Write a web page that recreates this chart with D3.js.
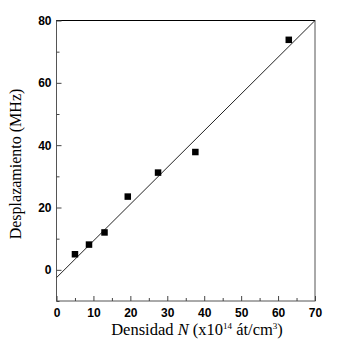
<!DOCTYPE html>
<html>
<head>
<meta charset="utf-8">
<script src="https://cdn.jsdelivr.net/npm/d3@7"></script>
<style>
  body { margin: 0; background: #fff; }
</style>
</head>
<body>
<div id="chart"></div>
<script>
// measured points
var densidad = [5.0, 8.8, 13.0, 19.3, 27.5, 37.6, 62.9];
var desplaz = [5.0, 8.1, 12.0, 23.5, 31.2, 37.8, 73.8];

// linear fit, end points
var fitX = [0, 70];
var fitY = [-2.5, 80];

var xTicks = [0, 10, 20, 30, 40, 50, 60, 70];
var yTicks = [0, 20, 40, 60, 80];

var width = 338, height = 352;
var plotL = 56.5, plotR = 315, plotT = 20.5, plotB = 301;

var svg = d3.select("#chart")
    .append("svg")
    .attr("width", width)
    .attr("height", height);

var x = d3.scaleLinear().domain([0, 70]).range([plotL, plotR]);
var y = d3.scaleLinear().domain([-10, 80]).range([plotB, plotT]);

// frame
svg.append("rect")
    .attr("x", plotL)
    .attr("y", plotT)
    .attr("width", plotR - plotL)
    .attr("height", plotB - plotT)
    .style("fill", "none")
    .style("stroke", "#555")
    .style("stroke-width", 1);

svg.append("line")
    .attr("x1", plotL).attr("x2", plotR)
    .attr("y1", plotT).attr("y2", plotT)
    .style("stroke", "#000")
    .style("stroke-width", 1.2);

// x axis, ticks inward
var xAxis = d3.axisBottom(x)
    .tickValues(xTicks)
    .tickSize(-5)
    .tickPadding(7)
    .tickFormat(d3.format("d"));

var gx = svg.append("g")
    .attr("transform", "translate(0," + plotB + ")")
    .call(xAxis);

gx.select(".domain").remove();

svg.append("g")
    .attr("transform", "translate(0," + plotB + ")")
    .call(d3.axisBottom(x).tickValues(d3.range(5, 70, 10)).tickSize(-3).tickFormat(""))
    .select(".domain").remove();

var yAxis = d3.axisLeft(y)
    .tickValues(yTicks)
    .tickSize(-5)
    .tickPadding(5)
    .tickFormat(d3.format("d"));

var gy = svg.append("g")
    .attr("transform", "translate(" + plotL + ",0)")
    .call(yAxis);

gy.select(".domain").remove();

svg.append("g")
    .attr("transform", "translate(" + plotL + ",0)")
    .call(d3.axisLeft(y).tickValues([-10, 10, 30, 50, 70]).tickSize(-3).tickFormat(""))
    .select(".domain").remove();

svg.selectAll(".tick line").style("stroke", "#444");
svg.selectAll(".tick text")
    .style("font-family", "Liberation Sans, Arial, sans-serif")
    .style("font-size", "12px")
    .style("font-weight", "bold")
    .style("fill", "#000");

// fit line
var line = d3.line()
    .x((d, i) => x(fitX[i]))
    .y((d, i) => y(fitY[i]));

svg.append("path")
    .datum(fitX)
    .attr("d", line)
    .style("fill", "none")
    .style("stroke", "#222")
    .style("stroke-width", 1);

// squares
var s = 6.5;
svg.append("g")
    .selectAll("rect")
    .data(densidad)
    .enter().append("rect")
    .attr("x", (d) => x(d) - s / 2)
    .attr("y", (d, i) => y(desplaz[i]) - s / 2)
    .attr("width", s)
    .attr("height", s)
    .style("fill", "#000");

// axis titles
var xlab = svg.append("text")
    .attr("x", 197)
    .attr("y", 335)
    .attr("text-anchor", "middle")
    .style("font-family", "Liberation Serif, Times New Roman, serif")
    .style("font-size", "16.5px");

xlab.append("tspan").text("Densidad ");
xlab.append("tspan").style("font-style", "italic").text("N");
xlab.append("tspan").text(" (x10");
xlab.append("tspan").attr("dy", -6).style("font-size", "9px").text("14");
xlab.append("tspan").attr("dy", 6).text(" át/cm");
xlab.append("tspan").attr("dy", -6).style("font-size", "9px").text("3");
xlab.append("tspan").attr("dy", 6).text(")");

svg.append("text")
    .attr("transform", "translate(21,164) rotate(-90)")
    .attr("text-anchor", "middle")
    .style("font-family", "Liberation Serif, Times New Roman, serif")
    .style("font-size", "16px")
    .text("Desplazamiento (MHz)");
</script>
</body>
</html>
